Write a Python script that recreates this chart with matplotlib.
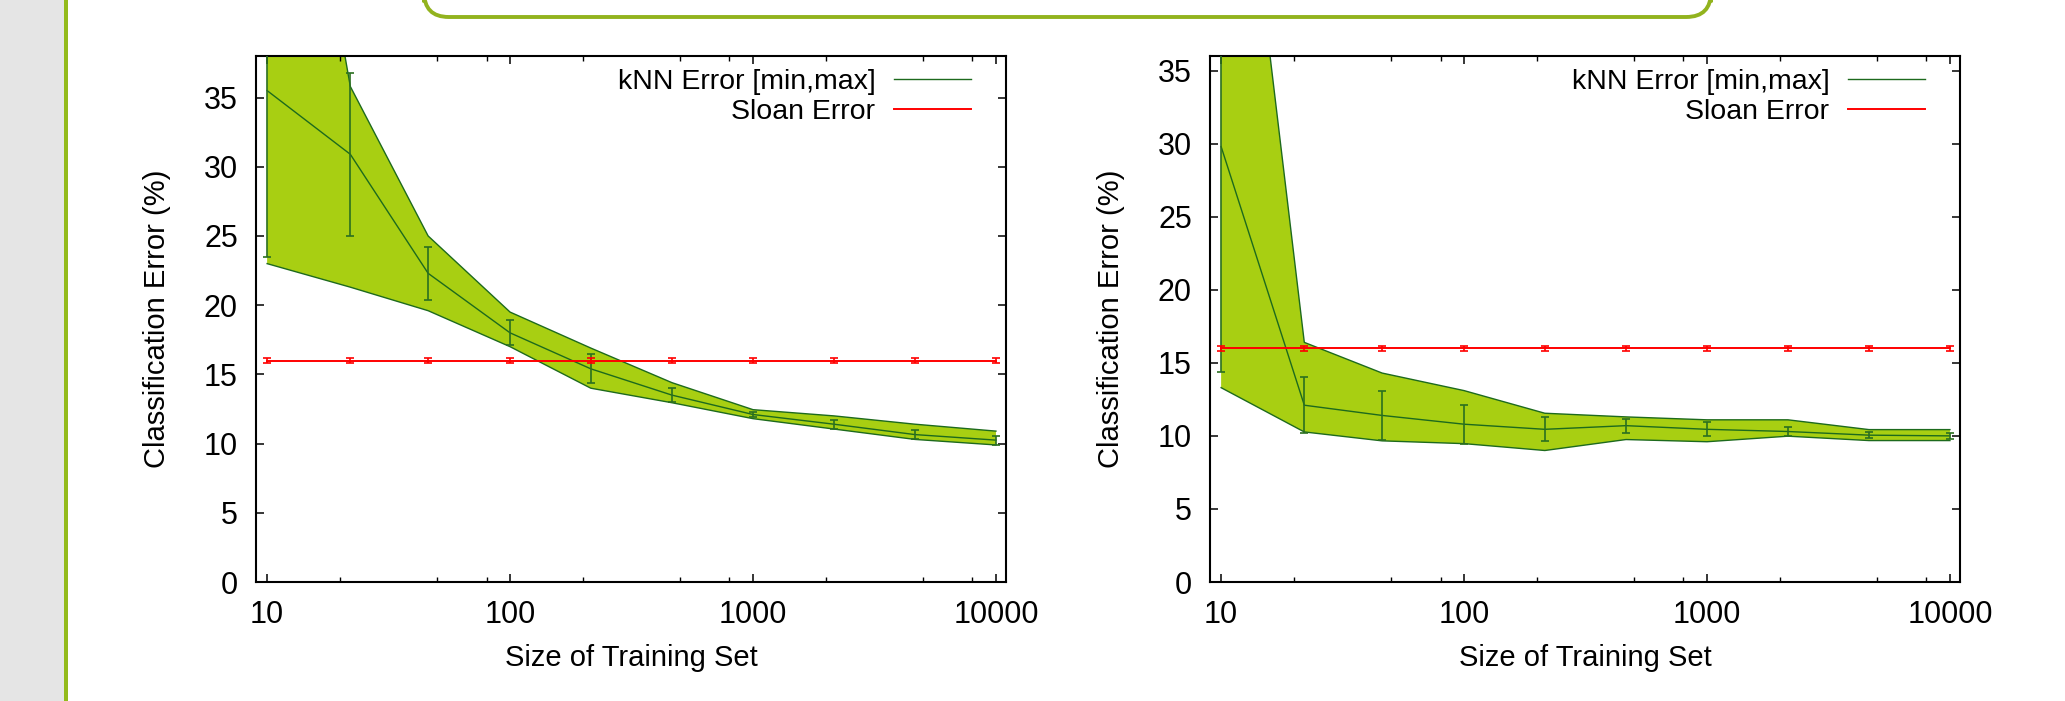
import matplotlib
matplotlib.use('Agg')
import matplotlib.pyplot as plt
from matplotlib.patches import Rectangle, FancyBboxPatch
from matplotlib.ticker import FixedLocator, NullFormatter

plt.rcParams['font.family'] = ['Liberation Sans', 'DejaVu Sans']

# training set sizes (log spaced)
sizes = [10, 22, 46, 100, 215, 464, 1000, 2154, 4642, 10000]

# left panel
mean_a = [35.5, 30.9, 22.3, 18.0, 15.4, 13.5, 12.1, 11.4, 10.65, 10.25]
std_a = [12.0, 5.9, 1.9, 0.9, 1.05, 0.5, 0.17, 0.33, 0.32, 0.32]
min_a = [23.0, 21.3, 19.6, 17.0, 14.0, 12.95, 11.8, 11.05, 10.3, 9.9]
max_a = [70.0, 35.8, 25.0, 19.5, 16.9, 14.4, 12.45, 12.0, 11.4, 10.9]

# right panel
mean_b = [29.8, 12.1, 11.4, 10.8, 10.45, 10.7, 10.45, 10.3, 10.05, 10.0]
std_b = [15.4, 1.9, 1.65, 1.33, 0.82, 0.48, 0.48, 0.34, 0.2, 0.22]
min_b = [13.3, 10.27, 9.66, 9.47, 9.0, 9.75, 9.6, 9.98, 9.68, 9.68]
max_b = [64.0, 16.4, 14.3, 13.1, 11.55, 11.3, 11.1, 11.1, 10.43, 10.43]

sloan = [16.0] * 10
sloan_err = [0.17] * 10

fill_col = '#a8cf12'
dark = '#1d6a1d'
W, H = 2065, 701
fig = plt.figure(figsize=(W / 100, H / 100), dpi=100)

# slide decoration: grey band + green rule + rounded box at top
fig.patches.append(Rectangle((0, 0), 64 / W, 1, transform=fig.transFigure,
                             facecolor='#e5e5e5', edgecolor='none', zorder=0))
fig.patches.append(Rectangle((64 / W, 0), 4 / W, 1, transform=fig.transFigure,
                             facecolor='#93bb1c', edgecolor='none', zorder=1))
box = FancyBboxPatch((424 / W, (H - 17) / H), (1711 - 424) / W, 40 / H,
                     boxstyle='round,pad=0,rounding_size=0.012',
                     transform=fig.transFigure, facecolor='white',
                     edgecolor='#92b31e', linewidth=2.8, mutation_aspect=3)
fig.patches.append(box)


def panel(left, mean, std, lo, hi, ytop):
    ax = fig.add_axes([left / W, (H - 582) / H, 750 / W, 526 / H])
    ax.fill_between(sizes, lo, hi, color=fill_col, linewidth=0, zorder=1)
    ax.plot(sizes, lo, color=dark, lw=1.0, zorder=2)
    ax.plot(sizes, hi, color=dark, lw=1.0, zorder=2)
    ax.plot(sizes, mean, color=dark, lw=1.0, zorder=3, label='kNN Error [min,max]')
    ax.errorbar(sizes, mean, yerr=std, fmt='none', ecolor='#2b7020', elinewidth=1.2,
                capsize=3, capthick=1.2, zorder=3)
    ax.plot(sizes, sloan, color='#ff0000', lw=1.4, zorder=4, label='Sloan Error')
    ax.errorbar(sizes, sloan, yerr=sloan_err, fmt='none', ecolor='#ff0000',
                elinewidth=1.2, capsize=3, capthick=1.2, zorder=4)
    ax.set_xscale('log')
    ax.set_xlim(9, 11000)
    ax.set_ylim(0, ytop)
    ax.xaxis.set_major_locator(FixedLocator([10, 100, 1000, 10000]))
    ax.set_xticklabels(['10', '100', '1000', '10000'])
    minors = [m * d for d in (10, 100, 1000) for m in (2, 5, 8)]
    ax.xaxis.set_minor_locator(FixedLocator(minors))
    ax.xaxis.set_minor_formatter(NullFormatter())
    ax.set_yticks(range(0, int(ytop) + 1, 5))
    ax.tick_params(which='major', direction='in', length=6, width=1.1,
                   top=True, right=True, labelsize=22, pad=13)
    ax.tick_params(which='minor', direction='in', length=3.5, width=1.0,
                   top=True, right=True)
    for s in ax.spines.values():
        s.set_linewidth(1.5)
    ax.set_xlabel('Size of Training Set', fontsize=21, labelpad=10)
    ax.set_ylabel('Classification Error (%)', fontsize=21)
    ax.yaxis.set_label_coords(-0.113, 0.5)
    ax.legend(loc='upper right', bbox_to_anchor=(0.953, 0.976), frameon=False,
              markerfirst=False, fontsize=20.5, handlelength=2.7, handletextpad=0.65,
              borderpad=0, borderaxespad=0, labelspacing=0.15)
    return ax


panel(256, mean_a, std_a, min_a, max_a, 38)
panel(1210, mean_b, std_b, min_b, max_b, 36)

fig.savefig('out.png', dpi=100)
